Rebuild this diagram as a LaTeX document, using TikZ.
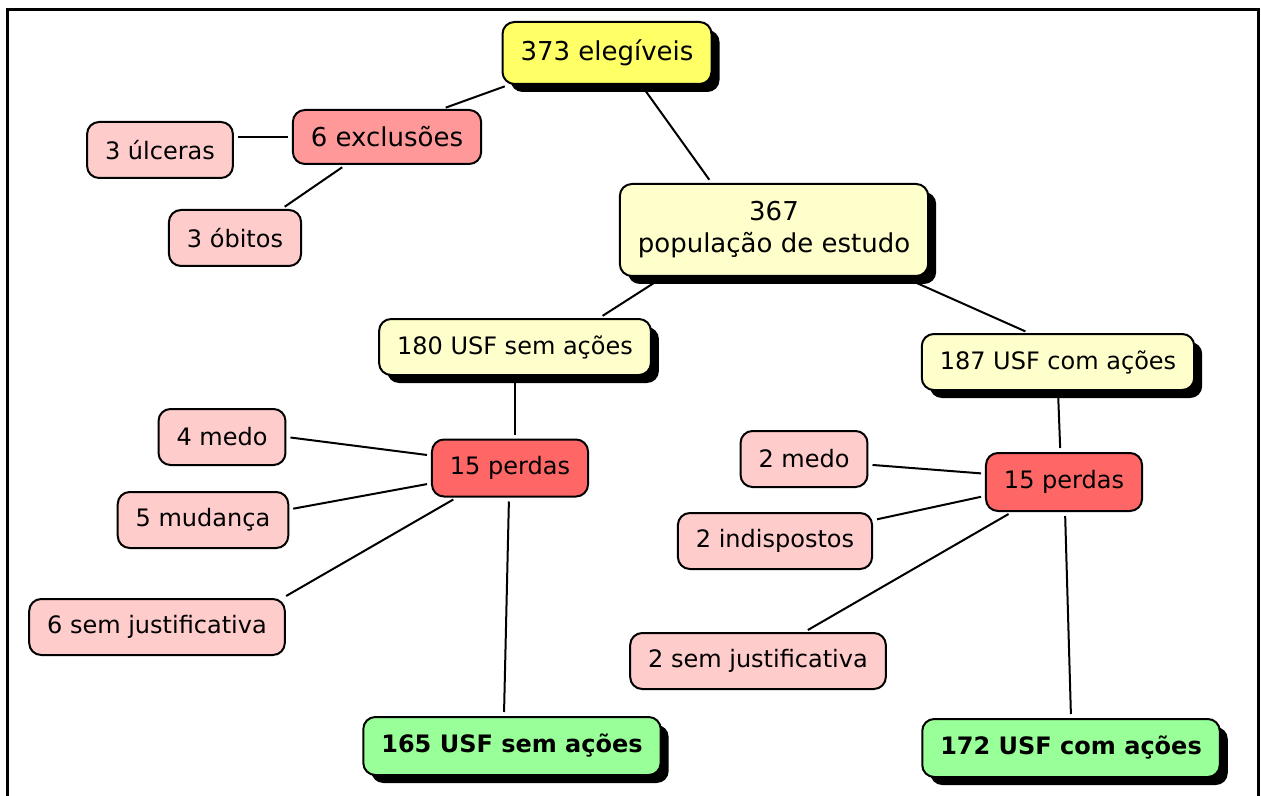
\documentclass[tikz,border=0pt]{standalone}
\usepackage{fontspec}
\setmainfont{DejaVu Sans}
\usetikzlibrary{shadows, calc}
\definecolor{lemon}{RGB}{255, 255, 102}
\definecolor{cream}{RGB}{255, 255, 204}
\definecolor{salmon}{RGB}{255, 153, 153}
\definecolor{blush}{RGB}{255, 204, 204}
\definecolor{coral}{RGB}{255, 102, 102}
\definecolor{mint}{RGB}{153, 255, 153}

\begin{document}
\begin{tikzpicture}[
    x=0.5pt, y=-0.5pt,
    % Define the box style
    mapbox/.style={
        rectangle,
        rounded corners=6pt,
        draw=black,
        line width=1pt,
        fill=#1,
        inner xsep=9pt,
        minimum height=28pt,
        align=center,
        font=\fontsize{12}{15}\selectfont
    },
    % Larger text
    bigbox/.style={
        mapbox=#1,
        font=\fontsize{13}{16}\selectfont
    },
    % Black offset shadow
    shade/.style={
        drop shadow={shadow xshift=4pt, shadow yshift=-4pt, fill=black, opacity=1}
    },
    % Connection style
    link/.style={
        line width=1pt,
        shorten >=2pt,
        shorten <=2pt
    }
]
\useasboundingbox (0,0) rectangle (1261,796);

% Frame
\draw[line width=1.5pt] (7,796) -- (7,10) -- (1258,10) -- (1258,796);

% Top of the map
\node[bigbox=lemon, shade, minimum height=31pt] (elig) at (607,53) {373 elegíveis};
\node[bigbox=salmon, minimum height=27pt] (excl) at (387,137) {6 exclusões};
\node[mapbox=blush] (ulc) at (160,150) {3 úlceras};
\node[mapbox=blush] (obit) at (235,238) {3 óbitos};
\node[bigbox=cream, shade, minimum height=46pt] (pop) at (774,230) {367\\população de estudo};

% Left branch
\node[mapbox=cream, shade] (semA) at (515,347) {180 USF sem ações};
\node[mapbox=coral, minimum height=28.5pt] (perdaA) at (510,468) {15 perdas};
\node[mapbox=blush] (medoA) at (222,437) {4 medo};
\node[mapbox=blush] (mudA) at (203,520) {5 mudança};
\node[mapbox=blush] (semjA) at (157,627) {6 sem justificativa};
\node[mapbox=mint, shade, minimum height=29pt, font=\fontsize{12}{15}\selectfont\bfseries] (resA) at (512,746) {165 USF sem ações};

% Right branch
\node[mapbox=cream, shade] (comA) at (1058,362) {187 USF com ações};
\node[mapbox=coral, minimum height=29pt] (perdaB) at (1064,482) {15 perdas};
\node[mapbox=blush] (medoB) at (804,459) {2 medo};
\node[mapbox=blush] (indB) at (775,541) {2 indispostos};
\node[mapbox=blush] (semjB) at (758,661) {2 sem justificativa};
\node[mapbox=mint, shade, minimum height=29pt, font=\fontsize{12}{15}\selectfont\bfseries] (resB) at (1071,748) {172 USF com ações};

% Connections
\draw[link] (elig.198) -- (excl.27);
\draw[link] (elig.-43) -- (pop.143);
\draw[link] (excl.west) -- (excl.west -| ulc.east);
\draw[link] (excl.214) -- (obit.32);
\draw[link] (pop.203) -- (semA.19);
\draw[link] (pop.-20) -- (comA.135);

\draw[link] (semA.south) -- (semA.south |- perdaA.north);
\draw[link] (perdaA.171) -- (medoA.east);
\draw[link] (perdaA.191) -- (mudA.7);
\draw[link] (perdaA.209) -- (semjA.13);
\draw[link] (perdaA.-92) -- (resA.105);

\draw[link] (comA.south) -- (perdaB.97);
\draw[link] (perdaB.174) -- (medoB.-5);
\draw[link] (perdaB.190) -- (indB.12);
\draw[link] (perdaB.210) -- (semjB.32);
\draw[link] (perdaB.-88) -- (resB.north);

\end{tikzpicture}
\end{document}
